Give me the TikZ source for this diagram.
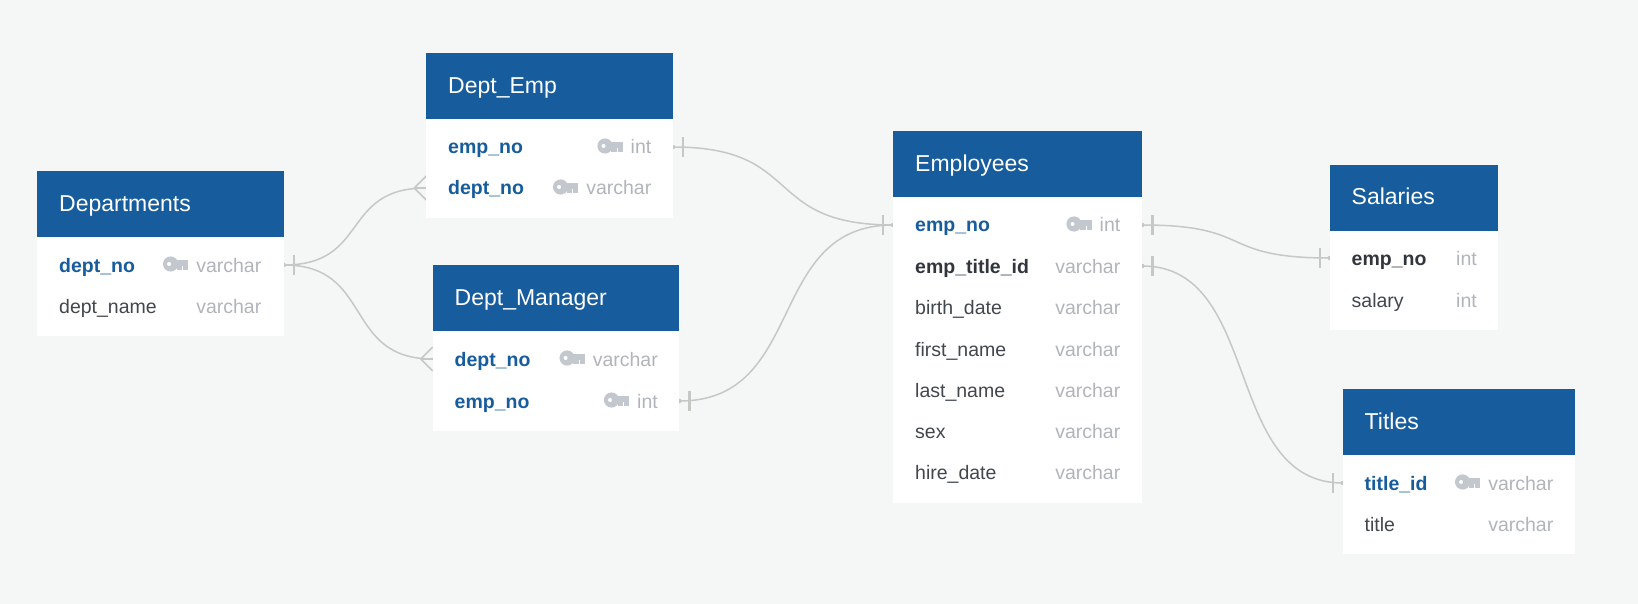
\documentclass[tikz,border=0pt]{standalone}
\usepackage{fontspec}
\setmainfont{Liberation Sans}
\usetikzlibrary{backgrounds}

\definecolor{pagegrey}{HTML}{F5F7F7}
\definecolor{headblue}{HTML}{175C9C}
\definecolor{darktext}{HTML}{31363D}
\definecolor{softtext}{HTML}{42474E}
\definecolor{typegrey}{HTML}{B1B5BB}
\definecolor{keygrey}{HTML}{C3C7CE}
\definecolor{linegrey}{HTML}{C6C8C6}

\tikzset{
  tablebox/.style={fill=white,anchor=north west,inner sep=0pt},
  tablehead/.style={fill=headblue,anchor=north west,inner sep=0pt,minimum height=66},
  tabletitle/.style={text=white,anchor=west,inner sep=0pt,text height=15pt,text depth=0pt,font=\fontsize{23}{23}\selectfont},
  fieldname/.style={text=softtext,anchor=west,inner sep=0pt,text height=14pt,text depth=0pt,font=\fontsize{19.5}{19.5}\selectfont},
  boldname/.style={fieldname,text=darktext,font=\fontsize{19.5}{19.5}\selectfont\bfseries},
  keyname/.style={boldname,text=headblue},
  typename/.style={fieldname,text=typegrey,anchor=east},
  relline/.style={draw=linegrey,line width=1.5pt},
  keyicon/.pic={
    \fill [keygrey] (0,0) circle (7.6);
    \fill [keygrey] (0,-3.6) rectangle (17.5,2.4);
    \fill [keygrey] (6,2.4) rectangle (11.7,6.4);
    \fill [keygrey] (12.7,2.4) rectangle (17.5,6.4);
    \fill [white] (-1.5,0) circle (2);
  }
}

\newcommand{\onebar}[1]{
  \fill [linegrey] #1 circle (2.2);
}
\newcommand{\tickbar}[1]{
  \draw [relline,line width=2.4pt] #1 +(0,-10) -- +(0,10);
}
\newcommand{\crowfoot}[1]{
  \draw [relline] #1 +(-12,0) -- +(0,-12);
  \draw [relline] #1 +(-12,0) -- +(0,0);
  \draw [relline] #1 +(-12,0) -- +(0,12);
}

\begin{document}
\begin{tikzpicture}[x=1pt,y=-1pt]

\path [use as bounding box] (0,0) rectangle (1638,604);

% departments
\node (dep) at (37,171) [tablebox,minimum width=246.5,minimum height=165] {};
\node (depH) at (37,171) [tablehead,minimum width=246.5] {};
\node (depT) at (59,204) [tabletitle] {Departments};
\node (dep1) at (59,265) [keyname] {dept\_no};
\node (dep1t) at (261.5,265) [typename] {varchar};
\node (dep2) at (59,306) [fieldname] {dept\_name};
\node (dep2t) at (261.5,306) [typename] {varchar};
\pic at ([xshift=-25.5pt,yshift=1pt]dep1t.west) {keyicon};

% dept emp
\node (emp) at (426.2,53) [tablebox,minimum width=246.5,minimum height=165] {};
\node (empH) at (426.2,53) [tablehead,minimum width=246.5] {};
\node (empT) at (448,86) [tabletitle] {Dept\_Emp};
\node (emp1) at (448,147) [keyname] {emp\_no};
\node (emp1t) at (651.5,147) [typename] {int};
\node (emp2) at (448,188) [keyname] {dept\_no};
\node (emp2t) at (651.5,188) [typename] {varchar};
\pic at ([xshift=-25.5pt,yshift=1pt]emp1t.west) {keyicon};
\pic at ([xshift=-25.5pt,yshift=1pt]emp2t.west) {keyicon};

% dept manager
\node (mgr) at (432.7,265) [tablebox,minimum width=246.5,minimum height=165.5] {};
\node (mgrH) at (432.7,265) [tablehead,minimum width=246.5] {};
\node (mgrT) at (454.5,298) [tabletitle] {Dept\_Manager};
\node (mgr1) at (454.5,359) [keyname] {dept\_no};
\node (mgr1t) at (658,359) [typename] {varchar};
\node (mgr2) at (454.5,401) [keyname] {emp\_no};
\node (mgr2t) at (658,401) [typename] {int};
\pic at ([xshift=-25.5pt,yshift=1pt]mgr1t.west) {keyicon};
\pic at ([xshift=-25.5pt,yshift=1pt]mgr2t.west) {keyicon};

% employees
\node (staff) at (893,131) [tablebox,minimum width=249,minimum height=371.5] {};
\node (staffH) at (893,131) [tablehead,minimum width=249] {};
\node (staffT) at (915,164) [tabletitle] {Employees};
\node (staff1) at (915,225) [keyname] {emp\_no};
\node (staff1t) at (1120.5,225) [typename] {int};
\node (staff2) at (915,266) [boldname] {emp\_title\_id};
\node (staff2t) at (1120.5,266) [typename] {varchar};
\node (staff3) at (915,307.5) [fieldname] {birth\_date};
\node (staff3t) at (1120.5,307.5) [typename] {varchar};
\node (staff4) at (915,349) [fieldname] {first\_name};
\node (staff4t) at (1120.5,349) [typename] {varchar};
\node (staff5) at (915,390) [fieldname] {last\_name};
\node (staff5t) at (1120.5,390) [typename] {varchar};
\node (staff6) at (915,431.5) [fieldname] {sex};
\node (staff6t) at (1120.5,431.5) [typename] {varchar};
\node (staff7) at (915,472.5) [fieldname] {hire\_date};
\node (staff7t) at (1120.5,472.5) [typename] {varchar};
\pic at ([xshift=-25.5pt,yshift=1pt]staff1t.west) {keyicon};

% salaries
\node (sal) at (1329.7,164.5) [tablebox,minimum width=168.5,minimum height=165] {};
\node (salH) at (1329.7,164.5) [tablehead,minimum width=168.5] {};
\node (salT) at (1351.5,197.5) [tabletitle] {Salaries};
\node (sal1) at (1351.5,258) [boldname] {emp\_no};
\node (sal1t) at (1477,258) [typename] {int};
\node (sal2) at (1351.5,300) [fieldname] {salary};
\node (sal2t) at (1477,300) [typename] {int};

% titles
\node (ttl) at (1342.7,388.5) [tablebox,minimum width=232,minimum height=165] {};
\node (ttlH) at (1342.7,388.5) [tablehead,minimum width=232] {};
\node (ttlT) at (1364.5,421.5) [tabletitle] {Titles};
\node (ttl1) at (1364.5,483) [keyname] {title\_id};
\node (ttl1t) at (1553.5,483) [typename] {varchar};
\node (ttl2) at (1364.5,524) [fieldname] {title};
\node (ttl2t) at (1553.5,524) [typename] {varchar};
\pic at ([xshift=-25.5pt,yshift=1pt]ttl1t.west) {keyicon};

\begin{pgfonlayer}{background}
\fill [pagegrey] (0,0) rectangle (1638,604);

\draw [relline] (dep.east |- dep1) .. controls +(86,0) and +(-86,0) .. (emp.west |- emp2);
\draw [relline] (dep.east |- dep1) .. controls +(90,0) and +(-90,0) .. (mgr.west |- mgr1);
\draw [relline] (emp.east |- emp1) .. controls +(132,0) and +(-132,0) .. (staff.west |- staff1);
\draw [relline] (mgr.east |- mgr2) .. controls +(128,0) and +(-128,0) .. (staff.west |- staff1);
\draw [relline] (staff.east |- staff1) .. controls +(113,0) and +(-113,0) .. (sal.west |- sal1);
\draw [relline] (staff.east |- staff2) .. controls +(120,0) and +(-120,0) .. (ttl.west |- ttl1);

\onebar{(dep.east |- dep1)}
\onebar{(emp.east |- emp1)}
\onebar{(mgr.east |- mgr2)}
\onebar{(staff.west |- staff1)}
\onebar{(staff.east |- staff1)}
\onebar{(staff.east |- staff2)}
\onebar{(sal.west |- sal1)}
\onebar{(ttl.west |- ttl1)}

\tickbar{([xshift=10pt]dep.east |- dep1)}
\tickbar{([xshift=10pt]emp.east |- emp1)}
\tickbar{([xshift=10pt]mgr.east |- mgr2)}
\tickbar{([xshift=-10pt]staff.west |- staff1)}
\tickbar{([xshift=10pt]staff.east |- staff1)}
\tickbar{([xshift=10pt]staff.east |- staff2)}
\tickbar{([xshift=-10pt]sal.west |- sal1)}
\tickbar{([xshift=-10pt]ttl.west |- ttl1)}

\crowfoot{(emp.west |- emp2)}
\crowfoot{(mgr.west |- mgr1)}
\end{pgfonlayer}

\end{tikzpicture}
\end{document}
